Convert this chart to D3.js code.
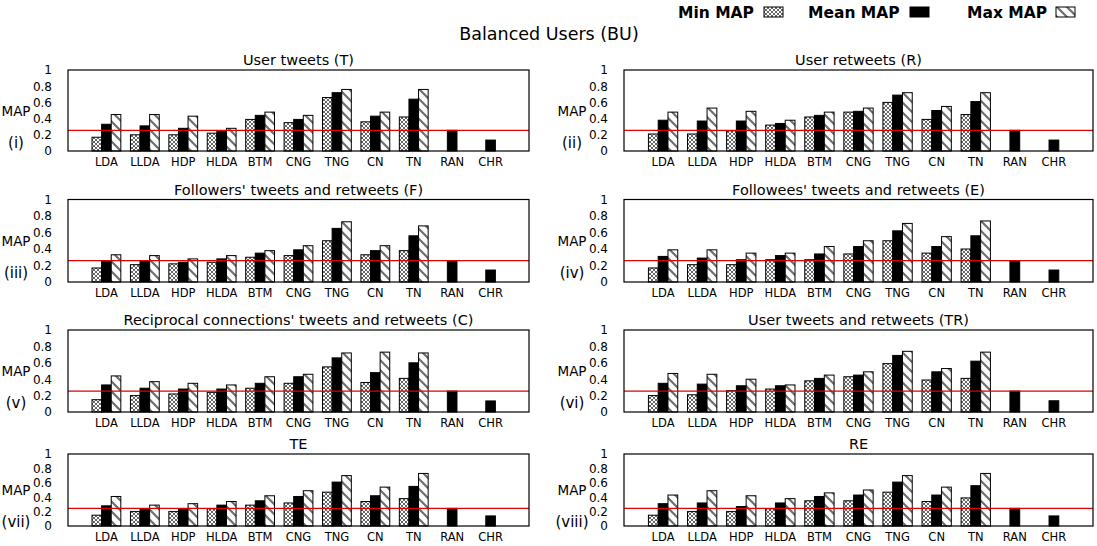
<!DOCTYPE html>
<html>
<head>
<meta charset="utf-8">
<script src="https://cdn.jsdelivr.net/npm/d3@7"></script>
<style>
  body { margin: 0; background: #fff; }
  svg { display: block; font-family: "DejaVu Sans", Verdana, sans-serif; }
</style>
</head>
<body>
<svg id="chart" width="1097" height="546"></svg>
<script>
// categories and panel labels
const categories = ["LDA", "LLDA", "HDP", "HLDA", "BTM", "CNG", "TNG", "CN", "TN", "RAN", "CHR"];
const panelTitles = ["User tweets (T)", "User retweets (R)",
  "Followers' tweets and retweets (F)", "Followees' tweets and retweets (E)",
  "Reciprocal connections' tweets and retweets (C)", "User tweets and retweets (TR)",
  "TE", "RE"];
const panelTags = ["(i)", "(ii)", "(iii)", "(iv)", "(v)", "(vi)", "(vii)", "(viii)"];
const seriesNames = ["Min MAP", "Mean MAP", "Max MAP"];
const yTicks = [0, 0.2, 0.4, 0.6, 0.8, 1];

// one row per panel, one value per category (null = no bar)
const minMAP = [
  [0.17, 0.20, 0.20, 0.22, 0.39, 0.35, 0.66, 0.36, 0.42, null, null],
  [0.21, 0.21, 0.25, 0.32, 0.42, 0.48, 0.60, 0.39, 0.45, null, null],
  [0.17, 0.21, 0.22, 0.24, 0.30, 0.32, 0.50, 0.33, 0.38, null, null],
  [0.17, 0.21, 0.21, 0.27, 0.27, 0.34, 0.50, 0.35, 0.40, null, null],
  [0.15, 0.20, 0.22, 0.24, 0.29, 0.35, 0.55, 0.36, 0.41, null, null],
  [0.20, 0.21, 0.26, 0.28, 0.38, 0.43, 0.59, 0.39, 0.41, null, null],
  [0.15, 0.20, 0.20, 0.24, 0.29, 0.32, 0.47, 0.34, 0.38, null, null],
  [0.15, 0.20, 0.20, 0.24, 0.35, 0.35, 0.47, 0.34, 0.39, null, null]
];
const meanMAP = [
  [0.33, 0.31, 0.28, 0.25, 0.44, 0.39, 0.72, 0.43, 0.64, 0.255, 0.135],
  [0.38, 0.37, 0.37, 0.34, 0.44, 0.49, 0.69, 0.50, 0.61, 0.255, 0.135],
  [0.26, 0.26, 0.24, 0.28, 0.35, 0.39, 0.65, 0.38, 0.56, 0.26, 0.145],
  [0.31, 0.29, 0.27, 0.32, 0.34, 0.43, 0.62, 0.43, 0.56, 0.26, 0.145],
  [0.33, 0.29, 0.28, 0.28, 0.35, 0.43, 0.66, 0.48, 0.60, 0.255, 0.135],
  [0.35, 0.34, 0.32, 0.32, 0.41, 0.45, 0.69, 0.49, 0.62, 0.255, 0.137],
  [0.28, 0.24, 0.24, 0.29, 0.35, 0.41, 0.61, 0.42, 0.55, 0.245, 0.14],
  [0.31, 0.32, 0.27, 0.32, 0.41, 0.43, 0.61, 0.43, 0.56, 0.245, 0.14]
];
const maxMAP = [
  [0.45, 0.45, 0.43, 0.28, 0.48, 0.44, 0.76, 0.48, 0.76, null, null],
  [0.48, 0.53, 0.49, 0.38, 0.48, 0.53, 0.72, 0.55, 0.72, null, null],
  [0.33, 0.32, 0.28, 0.32, 0.38, 0.44, 0.73, 0.44, 0.68, null, null],
  [0.39, 0.39, 0.35, 0.35, 0.43, 0.50, 0.71, 0.55, 0.74, null, null],
  [0.44, 0.37, 0.35, 0.33, 0.43, 0.46, 0.72, 0.73, 0.72, null, null],
  [0.47, 0.46, 0.40, 0.33, 0.45, 0.49, 0.74, 0.53, 0.73, null, null],
  [0.41, 0.29, 0.31, 0.34, 0.42, 0.49, 0.70, 0.54, 0.73, null, null],
  [0.43, 0.49, 0.42, 0.38, 0.46, 0.50, 0.70, 0.54, 0.73, null, null]
];

const svg = d3.select("#chart");
const fills = ["url(#patMin)", "#000", "url(#patMax)"];

// patterns
const defs = svg.append("defs");
const pMin = defs.append("pattern").attr("id", "patMin")
  .attr("patternUnits", "userSpaceOnUse").attr("width", 4).attr("height", 4);
pMin.append("rect").attr("width", 4).attr("height", 4).attr("fill", "#fff");
pMin.append("path").attr("d", "M0,0L4,4M4,0L0,4")
  .attr("stroke", "#555").attr("stroke-width", 0.9);

const pMax = defs.append("pattern").attr("id", "patMax")
  .attr("patternUnits", "userSpaceOnUse").attr("width", 10).attr("height", 10);
pMax.append("rect").attr("width", 10).attr("height", 10).attr("fill", "#fff");
pMax.append("path").attr("d", "M-2,-2L12,12M-2,8L2,12M8,-2L12,2")
  .attr("stroke", "#6e6e6e").attr("stroke-width", 2.2);

// main title
svg.append("text")
  .attr("x", 549).attr("y", 40)
  .attr("text-anchor", "middle")
  .style("font-size", "17.5px")
  .text("Balanced Users (BU)");

// legend
const legendX = [[678, 764], [808, 910], [967, 1056]];
seriesNames.forEach((name, i) => {
  svg.append("text")
    .attr("x", legendX[i][0]).attr("y", 18)
    .style("font-size", "15.5px").style("font-weight", "bold")
    .text(name);
  svg.append("rect")
    .attr("x", legendX[i][1]).attr("y", 7)
    .attr("width", 19).attr("height", 10)
    .attr("fill", fills[i]).attr("stroke", "#000").attr("stroke-width", 1);
});

// panel frames
const cols = [[68, 529], [624, 1093]];
const rows = [[70, 151], [199.5, 282], [330, 412], [454, 526]];
const labelX = [16, 572];

function drawPanel(p) {
  const [x0, x1] = cols[p % 2];
  const [top, bottom] = rows[Math.floor(p / 2)];

  const x = d3.scaleBand().domain(categories).range([x0, x1])
    .paddingInner(0.25).paddingOuter(0.625);
  const xs = d3.scaleBand().domain([0, 1, 2]).range([0, x.bandwidth()]);
  const y = d3.scaleLinear().domain([0, 1]).range([bottom, top]);

  const g = svg.append("g");

  // bars
  const series = [minMAP[p], meanMAP[p], maxMAP[p]];
  series.forEach((vals, s) => {
    g.selectAll(".bar" + s)
      .data(categories.map((c, i) => ({ c: c, v: vals[i] })).filter(d => d.v != null))
      .enter().append("rect")
      .attr("x", d => x(d.c) + xs(s))
      .attr("y", d => y(d.v))
      .attr("width", xs.bandwidth())
      .attr("height", d => bottom - y(d.v))
      .attr("fill", fills[s])
      .attr("stroke", "#000")
      .attr("stroke-width", 1);
  });

  // random baseline (red line)
  const ranVal = meanMAP[p][categories.indexOf("RAN")];
  g.append("line")
    .attr("x1", x0).attr("x2", x1)
    .attr("y1", y(ranVal)).attr("y2", y(ranVal))
    .attr("stroke", "#e00000").attr("stroke-width", 1.3);

  // frame
  g.append("rect")
    .attr("x", x0).attr("y", top)
    .attr("width", x1 - x0).attr("height", bottom - top)
    .attr("fill", "none").attr("stroke", "#000").attr("stroke-width", 1.2);

  // axes
  const yAxis = g.append("g")
    .attr("transform", "translate(" + x0 + ",0)")
    .call(d3.axisLeft(y).tickValues(yTicks).tickSize(0).tickPadding(16)
      .tickFormat(d3.format("~g")));
  yAxis.select(".domain").remove();
  yAxis.selectAll("text").style("font-size", "12px").style("font-family", "DejaVu Sans");

  const xAxis = g.append("g")
    .attr("transform", "translate(0," + bottom + ")")
    .call(d3.axisBottom(x).tickSize(0).tickPadding(7));
  xAxis.select(".domain").remove();
  xAxis.selectAll("text").style("font-size", "11.5px").style("font-family", "DejaVu Sans");

  // title
  g.append("text")
    .attr("x", (x0 + x1) / 2).attr("y", top - 5)
    .attr("text-anchor", "middle")
    .style("font-size", "14.5px")
    .text(panelTitles[p]);

  // y label and panel tag
  const lx = labelX[p % 2];
  const mid = (top + bottom) / 2;
  g.append("text")
    .attr("x", lx).attr("y", mid + 5)
    .attr("text-anchor", "middle")
    .style("font-size", "13.5px")
    .text("MAP");
  g.append("text")
    .attr("x", lx).attr("y", mid + 37)
    .attr("text-anchor", "middle")
    .style("font-size", "15px")
    .text(panelTags[p]);
}

for (let p = 0; p < 8; p++) drawPanel(p);
</script>
</body>
</html>
